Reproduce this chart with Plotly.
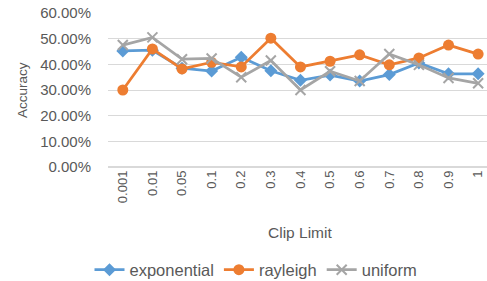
import plotly.graph_objects as go

categories = ["0.001", "0.01", "0.05", "0.1", "0.2", "0.3", "0.4", "0.5", "0.6", "0.7", "0.8", "0.9", "1"]
exponential = [0.452, 0.455, 0.385, 0.374, 0.428, 0.375, 0.338, 0.358, 0.335, 0.360, 0.405, 0.363, 0.363]
rayleigh = [0.300, 0.460, 0.382, 0.408, 0.390, 0.502, 0.390, 0.412, 0.437, 0.398, 0.425, 0.475, 0.440]
uniform = [0.475, 0.505, 0.420, 0.423, 0.350, 0.415, 0.300, 0.373, 0.335, 0.440, 0.398, 0.347, 0.326]

font_family = "Liberation Sans, Arial, sans-serif"
text_color = "#595959"

fig = go.Figure()
fig.add_trace(go.Scatter(x=categories, y=exponential, name="exponential", mode="lines+markers",
                         line=dict(color="#5B9BD5", width=2.75),
                         marker=dict(symbol="diamond", size=10, color="#5B9BD5")))
fig.add_trace(go.Scatter(x=categories, y=rayleigh, name="rayleigh", mode="lines+markers",
                         line=dict(color="#ED7D31", width=2.75),
                         marker=dict(symbol="circle", size=11, color="#ED7D31")))
fig.add_trace(go.Scatter(x=categories, y=uniform, name="uniform", mode="lines+markers",
                         line=dict(color="#A5A5A5", width=2.75),
                         marker=dict(symbol="x-thin", size=10, line=dict(color="#A5A5A5", width=2))))

fig.update_layout(
    width=487, height=281,
    margin=dict(l=108, r=0, t=13, b=114, autoexpand=False),
    paper_bgcolor="white", plot_bgcolor="white",
    font=dict(family=font_family, color=text_color, size=12),
    showlegend=True,
    legend=dict(orientation="h", x=(256 - 108) / 379, xanchor="center", y=-103 / 154, yanchor="middle",
                font=dict(size=16.5, color=text_color), itemwidth=30, tracegroupgap=0),
    xaxis=dict(type="category", range=[-0.5, 12.3], tickangle=-90, showgrid=False, automargin=False,
               showline=False, ticks="", tickfont=dict(size=13, color=text_color)),
    yaxis=dict(range=[0, 0.6], dtick=0.1, tickformat=".2%", showgrid=True, automargin=False,
               gridcolor="#D9D9D9", gridwidth=1, zeroline=True, zerolinecolor="#D9D9D9",
               showline=False, ticks="", ticklabelstandoff=16, tickfont=dict(size=15, color=text_color)),
    annotations=[
        dict(text="Clip Limit", xref="paper", yref="paper", x=(300 - 108) / 379, y=-65 / 154,
             xanchor="center", yanchor="middle", showarrow=False, font=dict(size=15.5, color=text_color)),
        dict(text="Accuracy", xref="paper", yref="paper", x=-86 / 379, y=0.5, textangle=-90,
             xanchor="center", yanchor="middle", showarrow=False, font=dict(size=13.5, color=text_color)),
    ],
)

fig.write_html("out.html", post_script="document.body.style.margin='0';",
               config={"displayModeBar": False})
